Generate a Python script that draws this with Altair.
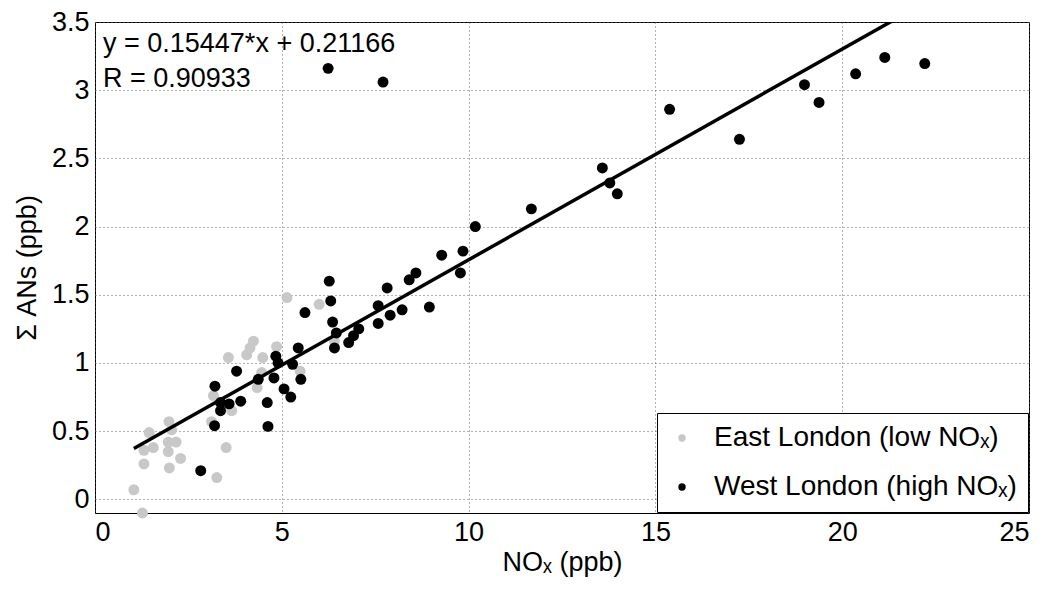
import altair as alt
import pandas as pd

# ---- data ----
east_x = [1.04, 1.27, 1.45, 1.31, 1.56, 1.31, 1.98, 2.05, 1.96, 2.17, 1.96, 2.29, 1.99,
          3.26, 3.51, 3.12, 3.17, 3.66, 3.57, 4.06, 4.15, 4.24, 4.49, 4.86, 4.46, 4.34,
          5.49, 5.14, 6.00, 6.41]
east_y = [0.07, -0.10, 0.49, 0.36, 0.38, 0.26, 0.57, 0.51, 0.42, 0.42, 0.35, 0.30, 0.23,
          0.16, 0.38, 0.57, 0.76, 0.65, 1.04, 1.06, 1.11, 1.16, 1.04, 1.12, 0.93, 0.82,
          0.94, 1.48, 1.43, 1.16]

west_x = [2.83, 3.20, 3.21, 3.36, 3.36, 3.59, 3.79, 3.90, 4.37, 4.61, 4.63, 4.79, 4.84,
          4.90, 5.06, 5.24, 5.29, 5.44, 5.51, 5.62, 6.27, 6.31, 6.36, 6.41, 6.46, 6.79,
          6.92, 7.06, 7.58, 7.58, 7.82, 7.90, 8.22, 8.41, 8.59, 8.95, 9.28, 9.78, 9.85,
          10.18, 11.68, 13.58, 13.78, 13.98, 15.38, 17.25, 18.99, 19.38, 20.36, 21.14,
          22.21, 6.24, 7.71]
west_y = [0.21, 0.54, 0.83, 0.71, 0.65, 0.70, 0.94, 0.72, 0.88, 0.71, 0.535, 0.89, 1.05,
          1.00, 0.81, 0.75, 0.99, 1.11, 0.88, 1.37, 1.60, 1.455, 1.30, 1.11, 1.22, 1.15,
          1.20, 1.25, 1.42, 1.29, 1.55, 1.35, 1.39, 1.61, 1.66, 1.41, 1.79, 1.66, 1.82,
          2.00, 2.13, 2.43, 2.32, 2.24, 2.86, 2.64, 3.04, 2.91, 3.12, 3.24,
          3.195, 3.16, 3.06]

slope = 0.15447
intercept = 0.21166
fit_x = [1.04, 22.21]

EAST = "East London (low NOₓ)"
WEST = "West London (high NOₓ)"
note_text = "y = 0.15447*x + 0.21166\nR = 0.90933"

x_ticks = [0, 5, 10, 15, 20, 25]
y_ticks = [0, 0.5, 1, 1.5, 2, 2.5, 3, 3.5]

pts = pd.DataFrame({
    "nox": east_x + west_x,
    "ans": east_y + west_y,
    "site": [EAST] * len(east_x) + [WEST] * len(west_x),
    "rank": [0] * len(east_x) + [1] * len(west_x),
})
fit = pd.DataFrame({"nox": fit_x, "ans": [slope * v + intercept for v in fit_x]})

FONT = "Liberation Sans"
FS = 27

x_scale = alt.Scale(domain=[0, 25], nice=False, zero=False)
y_scale = alt.Scale(domain=[-0.1, 3.5], nice=False, zero=False)

x_axis = alt.Axis(title="NOₓ (ppb)", values=x_ticks, labelExpr="'' + datum.value",
                  grid=True, titlePadding=4, labelPadding=6)
y_axis = alt.Axis(title="Σ ANs (ppb)", values=y_ticks, labelExpr="'' + datum.value",
                  grid=True, titlePadding=10, labelPadding=6)

points = alt.Chart(pts).mark_circle(size=120, opacity=1).encode(
    x=alt.X("nox:Q", scale=x_scale, axis=x_axis),
    y=alt.Y("ans:Q", scale=y_scale, axis=y_axis),
    color=alt.Color("site:N",
                    scale=alt.Scale(domain=[EAST, WEST], range=["#c8c8c8", "#000000"]),
                    legend=alt.Legend(title=None, orient="bottom-right", offset=1,
                                      symbolSize=55, labelFontSize=28, labelFont=FONT,
                                      labelLimit=600, labelColor="black",
                                      rowPadding=21, padding=11, labelOffset=18,
                                      strokeColor="black", fillColor="white",
                                      cornerRadius=0, symbolType="circle")),
    order=alt.Order("rank:Q"),
)

line = alt.Chart(fit).mark_line(color="black", strokeWidth=3.5, clip=True).encode(
    x=alt.X("nox:Q", scale=x_scale),
    y=alt.Y("ans:Q", scale=y_scale),
)

text = alt.Chart(pts).mark_text(align="left", baseline="top", font=FONT,
                                fontSize=FS, color="black", lineBreak="\n",
                                lineHeight=35).encode(
    x=alt.value(8),
    y=alt.value(9),
    text=alt.value(note_text),
).transform_filter("datum.rank == 1 && datum.nox > 22")

chart = alt.layer(points, line, text).properties(
    width=934, height=491, autosize="none", background="white",
    padding={"left": 87, "top": 14, "right": 10, "bottom": 70},
).configure_view(stroke="black", strokeWidth=1).configure_axis(
    labelFont=FONT, titleFont=FONT, labelFontSize=FS, titleFontSize=FS,
    labelColor="black", titleColor="black", titleFontWeight="normal",
    domain=False, ticks=False,
    gridColor="#555555", gridDash=[1, 3], gridWidth=1, gridOpacity=0.9,
)

chart.save("out.html", embed_options={"renderer": "svg", "actions": False})
